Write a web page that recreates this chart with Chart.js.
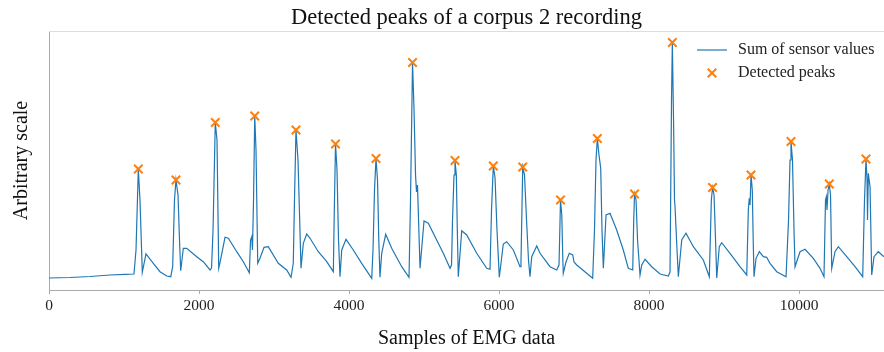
<!DOCTYPE html>
<html>
<head>
<meta charset="utf-8">
<script src="https://cdn.jsdelivr.net/npm/chart.js@4/dist/chart.umd.min.js"></script>
<style>
  html, body { margin: 0; padding: 0; background: #ffffff; }
  canvas { display: block; }
</style>
</head>
<body>
<canvas id="chart" width="884" height="352"></canvas>
<script>
// Sample index of each point of the summed EMG trace
const sampleIdx = [
  0, 280, 547, 813, 1013, 1133, 1160, 1191, 1213, 1244, 1293, 1391, 1480, 1569, 1623,
  1649, 1673, 1693, 1720, 1740, 1756, 1791, 1836, 1969, 2057, 2147, 2167,
  2187, 2217, 2240, 2263, 2280, 2347, 2391, 2503, 2591, 2671,
  2687, 2703, 2713, 2727, 2743, 2760, 2783, 2813, 2867, 2924, 3057, 3169, 3227,
  3257, 3273, 3293, 3320, 3360, 3391, 3436, 3480, 3591, 3703, 3791,
  3804, 3820, 3840, 3860, 3880, 3903, 3960, 4057, 4169, 4303,
  4320, 4340, 4360, 4380, 4397, 4413, 4436, 4489, 4569, 4703, 4800,
  4820, 4847, 4867, 4887, 4900, 4913, 4947, 5000, 5057, 5169, 5257, 5347, 5367,
  5380, 5400, 5413, 5431, 5444, 5457, 5503, 5569, 5703, 5836, 5880,
  5900, 5924, 5947, 5973, 6004, 6057, 6103, 6191, 6280, 6293,
  6316, 6340, 6367, 6393, 6413, 6436, 6503, 6547, 6680, 6769, 6800,
  6820, 6837, 6851, 6857, 6893, 6937, 6983, 7000, 7036, 7169, 7249,
  7273, 7293, 7311, 7333, 7356, 7373, 7391, 7427, 7480, 7569, 7657, 7724, 7783,
  7796, 7807, 7827, 7847, 7880, 7903, 7947, 8036, 8147, 8257, 8280,
  8300, 8311, 8327, 8340, 8347, 8367, 8391, 8436, 8493, 8591, 8724, 8804,
  8831, 8847, 8867, 8887, 8903, 8937, 8969, 9080, 9213, 9303,
  9324, 9337, 9347, 9360, 9377, 9389, 9400, 9427, 9471, 9524, 9569, 9613, 9703, 9827,
  9860, 9880, 9893, 9913, 9933, 9947, 10013, 10080, 10191, 10280, 10333,
  10353, 10364, 10373, 10387, 10404, 10420, 10436, 10480, 10524, 10636, 10747, 10849,
  10873, 10893, 10907, 10913, 10924, 10947, 10969, 11000, 11057, 11133
];

// Summed sensor value at each of those samples (arbitrary units)
const sensorSum = [
  12, 12.5, 13.5, 15, 15.7, 16, 40, 121, 90, 17.7, 36, 26.7, 18.3, 14, 13.3,
  23.3, 90, 110, 95, 50, 19.3, 41.7, 41.7, 33.3, 28.3, 20, 22,
  60, 167.5, 150, 21.7, 27.3, 52.7, 51.7, 38.3, 28.3, 17.3,
  50, 53.3, 40, 90, 174, 140, 26.7, 31.7, 42.7, 43.3, 26.7, 20, 12.7,
  26.7, 90, 160, 130, 21.7, 46.7, 56, 51.7, 38.3, 28.3, 18.3,
  80, 146, 120, 50, 13.3, 40, 50.7, 40, 26.7, 11.7,
  40, 100, 131.5, 110, 50, 12.7, 36.7, 55.7, 41.7, 23.3, 12.7,
  90, 227.5, 180, 115, 98, 105, 21.7, 69, 66.7, 50, 36.7, 21.7, 25,
  70, 115, 129.5, 115, 60, 13.3, 59.3, 55, 36.7, 21.7, 20.7,
  80, 124, 112, 60, 12.7, 46, 48.3, 40, 23.3, 28,
  123, 115, 70, 30, 13.3, 33.3, 44, 36.7, 23.3, 20, 25,
  90, 75, 30, 16.7, 28, 36.7, 35, 28, 25, 16.7, 11.7,
  60, 130, 151.5, 135, 121.7, 60, 21.7, 75, 76.7, 60, 40, 21.7, 20,
  70, 96, 90, 50, 15, 25, 30.7, 23.3, 16, 14, 18,
  190, 247.5, 170, 90, 83.3, 50, 13.3, 50, 56.7, 43.3, 30, 13.3,
  90, 102.5, 95, 50, 12, 43.3, 47.3, 36.7, 23.3, 15,
  80, 91.7, 85, 115, 100, 50, 13.3, 31.7, 38.3, 33.3, 32.7, 26.7, 18.3, 13.3,
  70, 130, 148.5, 130, 60, 23.3, 38.3, 40.7, 31.7, 21.7, 13.3,
  90, 93.3, 80, 100, 106, 95, 21.7, 38.3, 43.3, 33.3, 23.3, 13.3,
  90, 131, 110, 70, 116.7, 103.3, 15, 33.3, 38.3, 33.3
];

// Detected peaks
const peakIdx = [1191, 1693, 2217, 2743, 3293, 3820, 4360, 4847, 5413, 5924,
                 6316, 6820, 7311, 7807, 8311, 8847, 9360, 9893, 10404, 10893];
const peakVal = [121, 110, 167.5, 174, 160, 146, 131.5, 227.5, 129.5, 124,
                 123, 90, 151.5, 96, 247.5, 102.5, 115, 148.5, 106, 131];

const xTickValues = [0, 2000, 4000, 6000, 8000, 10000];
const xRange = [0, 11133];
const yRange = [0, 259];

const chartTitle = 'Detected peaks of a corpus 2 recording';
const xTitle = 'Samples of EMG data';
const yTitle = 'Arbitrary scale';
const seriesNames = ['Sum of sensor values', 'Detected peaks'];

const SERIF = "'Liberation Serif', 'DejaVu Serif', serif";
const BLUE = '#1f77b4';
const ORANGE = '#ff7f0e';

const tracePoints = sampleIdx.map((x, i) => ({ x: x, y: sensorSum[i] }));
const peakPoints = peakIdx.map((x, i) => ({ x: x, y: peakVal[i] }));

// Title, top frame line and an in-plot legend
const decorations = {
  id: 'decorations',
  afterDraw(chart) {
    const { ctx, chartArea } = chart;
    ctx.save();
    // top frame line
    ctx.strokeStyle = '#dddddd';
    ctx.lineWidth = 1;
    ctx.beginPath();
    ctx.moveTo(chartArea.left, chartArea.top + 0.5);
    ctx.lineTo(chartArea.right, chartArea.top + 0.5);
    ctx.stroke();

    // title
    ctx.fillStyle = '#111111';
    ctx.font = `22.5px ${SERIF}`;
    ctx.textAlign = 'center';
    ctx.textBaseline = 'middle';
    ctx.fillText(chartTitle, (chartArea.left + chartArea.right) / 2, 18);

    // legend
    ctx.font = `16px ${SERIF}`;
    ctx.textAlign = 'left';
    ctx.fillStyle = '#222222';
    const lx0 = 697, lx1 = 727, tx = 738;
    const y1 = 50, y2 = 73;
    ctx.strokeStyle = BLUE;
    ctx.lineWidth = 1.2;
    ctx.beginPath();
    ctx.moveTo(lx0, y1);
    ctx.lineTo(lx1, y1);
    ctx.stroke();
    ctx.fillText(seriesNames[0], tx, y1);

    const cx = (lx0 + lx1) / 2, r = 4.3;
    ctx.strokeStyle = ORANGE;
    ctx.lineWidth = 2;
    ctx.beginPath();
    ctx.moveTo(cx - r, y2 - r); ctx.lineTo(cx + r, y2 + r);
    ctx.moveTo(cx - r, y2 + r); ctx.lineTo(cx + r, y2 - r);
    ctx.stroke();
    ctx.fillText(seriesNames[1], tx, y2);
    ctx.restore();
  }
};

new Chart(document.getElementById('chart'), {
  type: 'line',
  data: {
    datasets: [
      {
        label: seriesNames[0],
        data: tracePoints,
        borderColor: BLUE,
        borderWidth: 1.2,
        pointRadius: 0,
        tension: 0,
        fill: false,
        order: 2
      },
      {
        label: seriesNames[1],
        type: 'scatter',
        data: peakPoints,
        showLine: false,
        pointStyle: 'crossRot',
        pointRadius: 6,
        pointHoverRadius: 6,
        borderColor: ORANGE,
        backgroundColor: ORANGE,
        pointBorderWidth: 2,
        borderWidth: 2,
        order: 1
      }
    ]
  },
  options: {
    responsive: false,
    animation: false,
    devicePixelRatio: 1,
    layout: { autoPadding: false, padding: { top: 31, right: 0, left: 0, bottom: 0 } },
    plugins: {
      legend: { display: false },
      title: { display: false },
      tooltip: { enabled: false }
    },
    scales: {
      x: {
        type: 'linear',
        min: xRange[0],
        max: xRange[1],
        afterBuildTicks: s => { s.ticks = xTickValues.map(v => ({ value: v })); },
        afterFit: s => { s.height = 62; },
        border: { display: true, color: '#aaaaaa', width: 1 },
        grid: { drawOnChartArea: false, drawTicks: true, tickLength: 4, color: '#aaaaaa' },
        ticks: {
          padding: 3,
          color: '#222222',
          font: { family: SERIF, size: 15.5 },
          maxRotation: 0,
          callback: v => String(v)
        },
        title: {
          display: true,
          text: xTitle,
          color: '#111111',
          font: { family: SERIF, size: 20 },
          padding: { top: 0, bottom: 1 }
        }
      },
      y: {
        type: 'linear',
        min: yRange[0],
        max: yRange[1],
        afterFit: s => { s.width = 49; },
        border: { display: true, color: '#aaaaaa', width: 1 },
        grid: { display: false },
        ticks: { display: false },
        title: {
          display: true,
          text: yTitle,
          color: '#111111',
          font: { family: SERIF, size: 20 },
          padding: { top: 10, bottom: 0 }
        }
      }
    }
  },
  plugins: [decorations]
});
</script>
</body>
</html>
